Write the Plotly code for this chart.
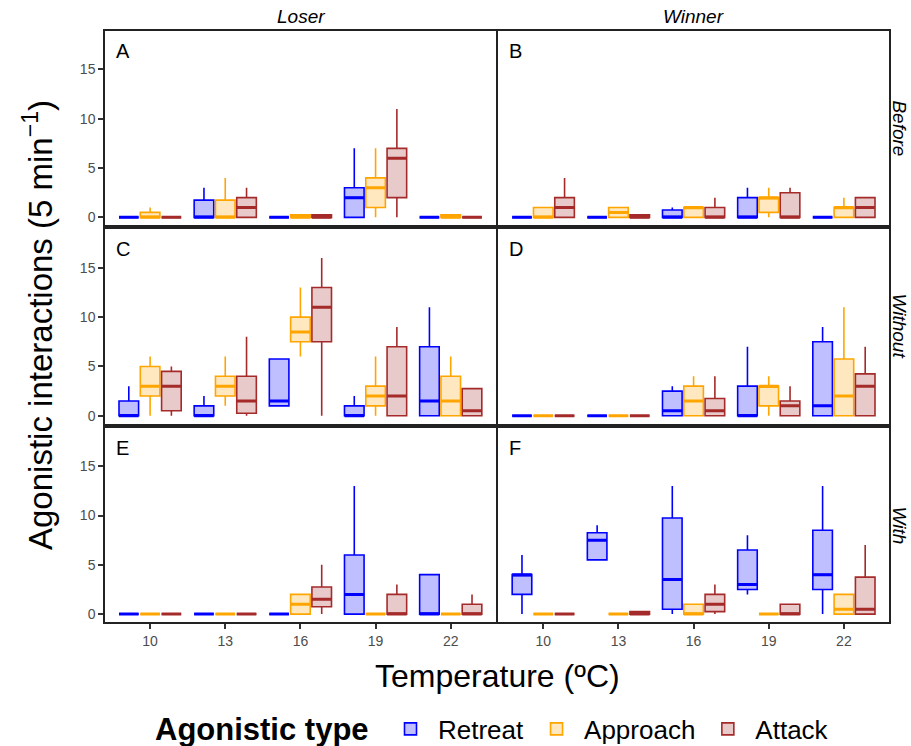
import plotly.graph_objects as go
from plotly.subplots import make_subplots

temps = ["10", "13", "16", "19", "22"]
types = ["Retreat", "Approach", "Attack"]
columns = ["Loser", "Winner"]
rows = ["Before", "Without", "With"]
panel_letters = ["A", "B", "C", "D", "E", "F"]

# five-number summaries per temperature: (lower whisker, q1, median, q3, upper whisker)
Z = (0, 0, 0, 0, 0)
A_retreat = [Z, (0, 0, 0, 1.75, 3), Z, (0, 0, 2, 3, 7), Z]
A_approach = [(0, 0, 0, 0.5, 1), (0, 0, 0, 1.75, 4), (0, 0, 0, 0.25, 0.25), (0, 1, 3, 4, 7), (0, 0, 0, 0.25, 0.25)]
A_attack = [Z, (0, 0, 1, 2, 3), (0, 0, 0, 0.25, 0.25), (0, 2, 6, 7, 11), Z]

B_retreat = [Z, Z, (0, 0, 0, 0.75, 1), (0, 0, 0, 2, 3), Z]
B_approach = [(0, 0, 0, 1, 1), (0, 0, 0.5, 1, 1), (0, 0, 1, 1, 1), (0, 0.5, 2, 2, 3), (0, 0, 1, 1, 2)]
B_attack = [(0, 0, 1, 2, 4), (0, 0, 0, 0.25, 0.25), (0, 0, 0, 1, 2), (0, 0, 0, 2.5, 3), (0, 0, 1, 2, 2)]

C_retreat = [(0, 0, 0, 1.5, 3), (0, 0, 0, 1, 2), (1, 1, 1.5, 5.75, 5.75), (0, 0, 0, 1, 2), (0, 0, 1.5, 7, 11)]
C_approach = [(0, 2, 3, 5, 6), (1, 2, 3, 4, 6), (6, 7.5, 8.5, 10, 13), (0, 1, 2, 3, 6), (0, 0, 1.5, 4, 6)]
C_attack = [(0, 0.5, 3, 4.5, 5), (0, 0.25, 1.5, 4, 8), (0, 7.5, 11, 13, 16), (0, 0, 2, 7, 9), (0, 0, 0.5, 2.75, 2.75)]

D_retreat = [Z, Z, (0, 0, 0.5, 2.5, 3), (0, 0, 0, 3, 7), (0, 0, 1, 7.5, 9)]
D_approach = [Z, Z, (0, 0, 1.5, 3, 4), (0, 1, 3, 3, 4), (0, 0, 2, 5.75, 11)]
D_attack = [Z, Z, (0, 0, 0.5, 1.75, 4), (0, 0, 1, 1.5, 3), (0, 0, 3, 4.25, 7)]

E_retreat = [Z, Z, Z, (0, 0, 2, 6, 13), (0, 0, 0, 4, 4)]
E_approach = [Z, Z, (0, 0, 1, 2, 2), Z, Z]
E_attack = [Z, Z, (0, 0.75, 1.5, 2.75, 5), (0, 0, 0, 2, 3), (0, 0, 0, 1, 2)]

F_retreat = [(0, 2, 4, 4, 6), (5.5, 5.5, 7.5, 8.25, 9), (0, 0.5, 3.5, 9.75, 13), (2, 2.5, 3, 6.5, 8), (0, 2.5, 4, 8.5, 13)]
F_approach = [Z, Z, (0, 0, 0, 1, 1), Z, (0, 0, 0.5, 2, 2)]
F_attack = [Z, (0, 0, 0, 0.25, 0.25), (0, 0.25, 1, 2, 3), (0, 0, 0, 1, 1), (0, 0, 0.5, 3.75, 7)]

panels = [
    [A_retreat, A_approach, A_attack],
    [B_retreat, B_approach, B_attack],
    [C_retreat, C_approach, C_attack],
    [D_retreat, D_approach, D_attack],
    [E_retreat, E_approach, E_attack],
    [F_retreat, F_approach, F_attack],
]

line_colors = ["#0000FF", "#FFA500", "#A52A2A"]
fill_colors = ["rgba(0,0,255,0.25)", "rgba(255,165,0,0.25)", "rgba(165,42,42,0.25)"]

FONT = "Liberation Sans, Arial, sans-serif"

fig = make_subplots(rows=3, cols=2, horizontal_spacing=0.003, vertical_spacing=0.007)

for p, stats in enumerate(panels):
    r = p // 2 + 1
    c = p % 2 + 1
    for k, (tname, s) in enumerate(zip(types, stats)):
        lo = [v[0] for v in s]
        q1 = [v[1] for v in s]
        med = [v[2] for v in s]
        q3 = [v[3] for v in s]
        hi = [v[4] for v in s]
        fig.add_trace(go.Box(
            x=temps, q1=q1, median=med, q3=q3, lowerfence=lo, upperfence=hi,
            name=tname, legendgroup=tname, offsetgroup=tname,
            showlegend=(p == 0),
            line=dict(color=line_colors[k], width=1.6),
            fillcolor=fill_colors[k], whiskerwidth=0, boxpoints=False,
        ), row=r, col=c)
        # thicker median line drawn on top
        fig.add_trace(go.Box(
            x=temps, q1=med, median=med, q3=med, lowerfence=med, upperfence=med,
            name=tname, legendgroup=tname, offsetgroup=tname, showlegend=False,
            line=dict(color=line_colors[k], width=3),
            fillcolor="rgba(0,0,0,0)", whiskerwidth=0, boxpoints=False,
            hoverinfo="skip",
        ), row=r, col=c)

for p in range(6):
    r = p // 2 + 1
    c = p % 2 + 1
    bottom = r == 3
    left = c == 1
    fig.update_xaxes(
        type="category", categoryorder="array", categoryarray=temps,
        range=[-0.6, 4.6], showline=True, mirror=True, linecolor="#222222", linewidth=1.5,
        showgrid=False, zeroline=False,
        ticks="outside" if bottom else "", ticklen=5, tickwidth=2, tickcolor="#333333",
        showticklabels=bottom, tickfont=dict(size=14, color="#4D4D4D", family=FONT),
        row=r, col=c)
    fig.update_yaxes(
        range=[-0.8, 18.9], tickvals=[0, 5, 10, 15],
        showline=True, mirror=True, linecolor="#222222", linewidth=1.5,
        showgrid=False, zeroline=False,
        ticks="outside" if left else "", ticklen=5, tickwidth=2, tickcolor="#333333",
        showticklabels=left, tickfont=dict(size=14, color="#4D4D4D", family=FONT),
        row=r, col=c)

annotations = []
for p, letter in enumerate(panel_letters):
    idx = "" if p == 0 else str(p + 1)
    annotations.append(dict(
        text=letter, xref=f"x{idx} domain", yref=f"y{idx} domain",
        x=0.022, y=0.965, xanchor="left", yanchor="top", showarrow=False,
        font=dict(size=20, color="black", family=FONT)))

for c, name in enumerate(columns):
    annotations.append(dict(
        text=f"<i>{name}</i>", xref="paper", yref="paper",
        x=0.25 + 0.5 * c, y=1.024, xanchor="center", yanchor="middle",
        showarrow=False, font=dict(size=19, color="black", family=FONT)))

row_centers = [(622 - 128) / 591, (622 - 326) / 591, (622 - 525) / 591]
for name, yc in zip(rows, row_centers):
    annotations.append(dict(
        text=f"<i>{name}</i>", xref="paper", yref="paper",
        x=1.0135, y=yc, xanchor="center", yanchor="middle", textangle=90,
        showarrow=False, font=dict(size=19, color="black", family=FONT)))

annotations.append(dict(
    text="Agonistic interactions (5 min<sup>−1</sup>)", xref="paper", yref="paper",
    x=-0.0855, y=0.5025, xanchor="center", yanchor="middle", textangle=-90,
    showarrow=False, font=dict(size=33, color="black", family=FONT)))

annotations.append(dict(
    text="Temperature (ºC)", xref="paper", yref="paper",
    x=0.5, y=-0.0914, xanchor="center", yanchor="middle",
    showarrow=False, font=dict(size=32, color="black", family=FONT)))

# legend title
annotations.append(dict(
    text="<b>Agonistic type</b>", xref="paper", yref="paper",
    x=(153 - 105) / 784, y=(622 - 729) / 591, xanchor="left", yanchor="middle",
    showarrow=False, font=dict(size=31, color="black", family=FONT)))

fig.update_layout(
    width=911, height=746,
    margin=dict(l=105, r=22, t=31, b=124),
    paper_bgcolor="white", plot_bgcolor="white",
    boxmode="group", boxgap=0.15, boxgroupgap=0.08,
    font=dict(family=FONT, color="black"),
    annotations=annotations,
    legend=dict(
        orientation="h", x=(383 - 105) / 784, xanchor="left",
        yref="container", y=1 - 729 / 746, yanchor="middle",
        itemwidth=45,
        font=dict(size=26, family=FONT), bgcolor="rgba(0,0,0,0)",
    ),
)

fig.write_html("out.html", config={"displayModeBar": False},
               post_script="document.body.style.margin='0px';")
